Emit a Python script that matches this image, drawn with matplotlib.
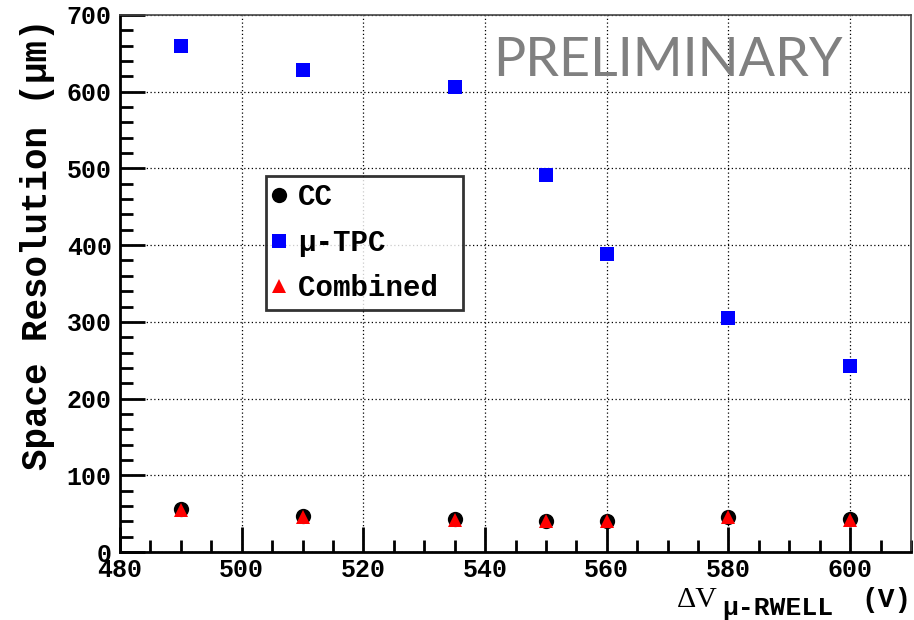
import matplotlib
matplotlib.use("Agg")
import matplotlib.pyplot as plt
from matplotlib.ticker import MultipleLocator
from matplotlib.lines import Line2D

# Data
voltage = [490, 510, 535, 550, 560, 580, 600]
cc = [56, 47, 43, 41, 41, 45, 43]
tpc = [659, 628, 606, 491, 388, 305, 243]
combined = [55, 46, 42, 40, 40, 45, 42]
legend_labels = ["CC", "\u03bc-TPC", "Combined"]

mono = "Liberation Mono"
W, H = 914, 620

fig = plt.figure(figsize=(W/100, H/100), dpi=100)
ax = fig.add_axes([120/W, 1-552/H, (911-120)/W, (552-15)/H])

ax.plot(voltage, tpc, linestyle="none", marker="s", markersize=10,
        color="#0000ff", markeredgewidth=0, zorder=3)
ax.plot(voltage, cc, linestyle="none", marker="o", markersize=11,
        color="black", markeredgewidth=0, zorder=4)
ax.plot(voltage, combined, linestyle="none", marker="^", markersize=10,
        color="#ff0000", markeredgewidth=0, zorder=5)

ax.set_xlim(480, 610)
ax.set_ylim(0, 700)
ax.xaxis.set_major_locator(MultipleLocator(20))
ax.xaxis.set_minor_locator(MultipleLocator(5))
ax.yaxis.set_major_locator(MultipleLocator(100))
ax.yaxis.set_minor_locator(MultipleLocator(20))
ax.tick_params(which="both", direction="in", width=2, top=False, right=False)
ax.tick_params(which="major", length=18)
ax.tick_params(which="minor", length=9)
ax.tick_params(axis="y", which="major", pad=6)
ax.tick_params(axis="x", which="major", pad=4)
for lab in ax.get_xticklabels() + ax.get_yticklabels():
    lab.set_fontfamily(mono)
    lab.set_fontweight("bold")
    lab.set_fontsize(18)

ax.grid(True, which="major", linestyle=(0, (1, 2)), color="black", linewidth=0.9)
ax.set_axisbelow(True)

for s in ["left", "bottom"]:
    ax.spines[s].set_linewidth(2)
    ax.spines[s].set_color("black")
for s in ["top", "right"]:
    ax.spines[s].set_linewidth(1.2)
    ax.spines[s].set_color("#444444")

ylab = ax.set_ylabel("Space Resolution (\u03bcm)", family=mono, fontweight="bold",
                     fontsize=24, loc="top")
ax.yaxis.set_label_coords(-0.082, 0.994)

# x-axis label pieces
t_dv = fig.text(677/W, 1-607/H, "\u0394V", family="Liberation Serif", fontsize=23,
                ha="left", va="baseline")
t_sub = fig.text(722/W, 1-615/H, "\u03bc-RWELL", family=mono, fontweight="bold",
                 fontsize=18, ha="left", va="baseline")
t_v = fig.text(912/W, 1-607/H, "(V)", family=mono, fontweight="bold",
               fontsize=20, ha="right", va="baseline")

# Preliminary stamp
t_pre = fig.text(843/W, 1-76/H, "PRELIMINARY", family="Lato", fontsize=40,
                 color="#808080", ha="right", va="baseline")

handles = [
    Line2D([], [], linestyle="none", marker="o", markersize=11, color="black", markeredgewidth=0),
    Line2D([], [], linestyle="none", marker="s", markersize=10, color="#0000ff", markeredgewidth=0),
    Line2D([], [], linestyle="none", marker="^", markersize=10, color="#ff0000", markeredgewidth=0),
]
leg = ax.legend(handles, [legend_labels[0], legend_labels[1], legend_labels[2] + " "],
                loc="upper left", bbox_to_anchor=((266-120)/791, (552-176)/537),
                prop={"family": mono, "weight": "bold", "size": 21},
                frameon=True, fancybox=False, edgecolor="black",
                handlelength=0.4, handletextpad=0.45, borderpad=0.25,
                labelspacing=0.6, borderaxespad=0)
leg.get_frame().set_linewidth(2)

# fit text sizes to measured extents
fig.canvas.draw()
r = fig.canvas.get_renderer()
def fit(t, target, use_height=False):
    bb = t.get_window_extent(r)
    cur = bb.height if use_height else bb.width
    if cur > 0:
        t.set_fontsize(t.get_fontsize() * target / cur)

fit(ylab, 450, use_height=True)
fit(t_dv, 41)
fit(t_sub, 111)
fit(t_v, 50)
fit(t_pre, 350)

fig.savefig("out.png", dpi=100)
